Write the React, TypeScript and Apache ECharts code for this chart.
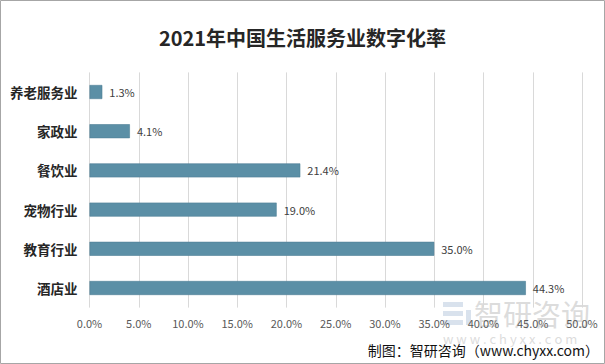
import React, { useEffect, useRef } from "react";
import * as echarts from "echarts";

const titleText = "2021年中国生活服务业数字化率";
const categories = ["养老服务业", "家政业", "餐饮业", "宠物行业", "教育行业", "酒店业"];
const values = [1.3, 4.1, 21.4, 19.0, 35.0, 44.3];
const sourceText = "制图：智研咨询（www.chyxx.com）";
const xMax = 50;
const xStep = 5;

export default function App() {
  const ref = useRef<HTMLDivElement>(null);
  useEffect(() => {
    if (!ref.current) return;
    const chart = echarts.init(ref.current, undefined, { renderer: "svg" });
    const font = '"Noto Sans CJK SC", "Noto Sans", sans-serif';
    chart.setOption({
      animation: false,
      backgroundColor: "#ffffff",
      title: {
        text: titleText,
        left: "center",
        top: 22,
        textStyle: { fontSize: 20, fontWeight: "bold", color: "#262626", fontFamily: font },
      },
      grid: { left: 89.5, right: 23, top: 72.4, bottom: 56.4, containLabel: false },
      xAxis: {
        type: "value",
        min: 0,
        max: xMax,
        interval: xStep,
        axisLine: { show: false },
        axisTick: { show: false },
        splitLine: { show: true, lineStyle: { color: "#d9d9d9", width: 1 } },
        axisLabel: {
          margin: 10,
          fontSize: 11,
          color: "#595959",
          fontFamily: font,
          formatter: (v: number) => v.toFixed(1) + "%",
        },
      },
      yAxis: {
        type: "category",
        data: categories,
        inverse: true,
        axisLine: { show: false },
        axisTick: { show: false },
        axisLabel: { margin: 12, fontSize: 13.5, fontWeight: "bold", color: "#262626", fontFamily: font },
      },
      series: [
        {
          type: "bar",
          data: values,
          barWidth: 14,
          itemStyle: { color: "#5b8fa6", borderColor: "#4f7f95", borderWidth: 0.6 },
          label: {
            show: true,
            position: "right",
            distance: 7,
            fontSize: 11,
            color: "#404040",
            fontFamily: font,
            formatter: (p: any) => Number(p.value).toFixed(1) + "%",
          },
        },
      ],
      graphic: [
        {
          type: "group",
          z: -1,
          silent: true,
          children: [
            { type: "rect", shape: { x: 443, y: 302, width: 20, height: 5 }, style: { fill: "rgba(170,190,215,0.45)" } },
            { type: "rect", shape: { x: 443, y: 311, width: 20, height: 5 }, style: { fill: "rgba(170,190,215,0.45)" } },
            { type: "rect", shape: { x: 443, y: 320, width: 20, height: 5 }, style: { fill: "rgba(170,190,215,0.45)" } },
            { type: "rect", shape: { x: 466, y: 310, width: 5, height: 15 }, style: { fill: "rgba(170,190,215,0.45)" } },
            {
              type: "text",
              x: 474,
              y: 313,
              style: { text: "智研咨询", fontSize: 29, fill: "rgba(190,190,190,0.55)", fontFamily: font, verticalAlign: "middle" },
            },
            {
              type: "text",
              x: 443,
              y: 338,
              style: { text: "w w w . c h y x x . c o m", fontSize: 13, fill: "rgba(190,190,190,0.55)", fontFamily: font, verticalAlign: "middle" },
            },
          ],
        },
        {
          type: "text",
          right: 6,
          top: 343,
          style: { text: sourceText, fontSize: 14, fill: "#111111", fontFamily: font },
        },
        {
          type: "rect",
          shape: { x: 0.5, y: 0.5, width: 604, height: 363 },
          style: { fill: "none", stroke: "#a6a6a6", lineWidth: 1 },
          silent: true,
        },
      ],
    });
    return () => chart.dispose();
  }, []);
  return (
    <div style={{ position: "fixed", left: 0, top: 0, width: 605, height: 364 }}>
      <div ref={ref} style={{ width: 605, height: 364 }} />
    </div>
  );
}
